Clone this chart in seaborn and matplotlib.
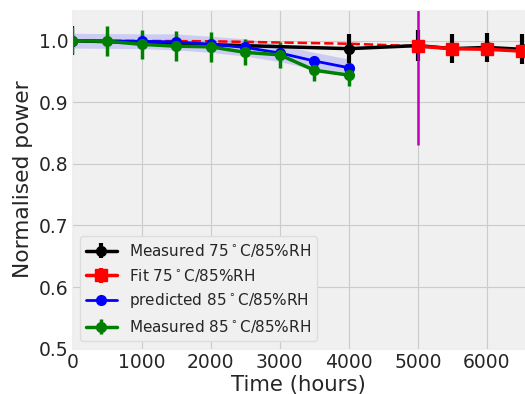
import numpy as np
import matplotlib
matplotlib.use('Agg')
import matplotlib.pyplot as plt
import seaborn as sns

# measured 75C/85%RH
t_m75 = [0, 4000, 5000, 5500, 6000, 6500]
p_m75 = [1.0, 0.987, 0.992, 0.987, 0.989, 0.986]
e_m75 = [0.024, 0.024, 0.025, 0.024, 0.024, 0.024]

# fit 75C/85%RH
t_fit = [5000, 5500, 6000, 6500]
p_fit = [0.991, 0.987, 0.986, 0.983]
e_fit = [0.004, 0.004, 0.004, 0.004]
t_fit_dash = [0, 1000, 2000, 3000, 4000, 5000]
p_fit_dash = [1.0, 0.9995, 0.999, 0.997, 0.995, 0.991]

# predicted 85C/85%RH
t_pred = [0, 1000, 1500, 2000, 2500, 3000, 3500, 4000]
p_pred = [1.0, 0.999, 0.998, 0.994, 0.989, 0.980, 0.967, 0.956]
lo_pred = [0.988, 0.987, 0.985, 0.981, 0.975, 0.966, 0.953, 0.942]
hi_pred = [1.012, 1.011, 1.011, 1.007, 1.003, 0.994, 0.981, 0.970]

# measured 85C/85%RH
t_m85 = [0, 500, 1000, 1500, 2000, 2500, 3000, 3500, 4000]
p_m85 = [1.0, 0.999, 0.994, 0.991, 0.990, 0.981, 0.977, 0.952, 0.944]
e_m85 = [0.022, 0.024, 0.024, 0.024, 0.024, 0.021, 0.021, 0.018, 0.018]

sns.set_style('darkgrid', {'axes.facecolor': '#f0f0f0', 'grid.color': '#cbcbcb',
                           'axes.edgecolor': '#f0f0f0'})
plt.rcParams['font.family'] = ['DejaVu Sans']

fig, ax = plt.subplots(figsize=(5.25, 3.94), dpi=100)
fig.subplots_adjust(left=0.138, right=1.0, bottom=0.115, top=0.975)

ax.fill_between(t_pred, lo_pred, hi_pred, color='blue', alpha=0.15, lw=0)
ax.plot(t_fit_dash, p_fit_dash, 'r--', lw=1.8)
ax.errorbar(t_m75, p_m75, yerr=e_m75, color='black', marker='o', ms=7, lw=2.5,
            elinewidth=3, label='Measured 75$^\\circ$C/85%RH')
ax.errorbar(t_fit, p_fit, yerr=e_fit, color='red', marker='s', ms=8, lw=2.5,
            elinewidth=3, label='Fit 75$^\\circ$C/85%RH')
ax.errorbar(t_pred, p_pred, color='blue', marker='o', ms=7, lw=2,
            label='predicted 85$^\\circ$C/85%RH')
ax.errorbar(t_m85, p_m85, yerr=e_m85, color='green', marker='o', ms=7, lw=2.5,
            elinewidth=2.5, label='Measured 85$^\\circ$C/85%RH')
ax.vlines(5000, 0.83, 1.05, color='m', lw=1.8)

ax.set_xlim(0, 6550)
ax.set_ylim(0.5, 1.05)
ax.set_xticks([0, 1000, 2000, 3000, 4000, 5000, 6000])
ax.set_yticks([0.5, 0.6, 0.7, 0.8, 0.9, 1.0])
ax.tick_params(labelsize=13.5, length=0, pad=3)
ax.set_xlabel('Time (hours)', fontsize=15.3, labelpad=2)
ax.set_ylabel('Normalised power', fontsize=15.7)
ax.legend(loc='lower left', fontsize=11, frameon=True, facecolor='#f0f0f0',
          edgecolor='#dddddd', framealpha=1, handlelength=2)

fig.savefig('out.png')
